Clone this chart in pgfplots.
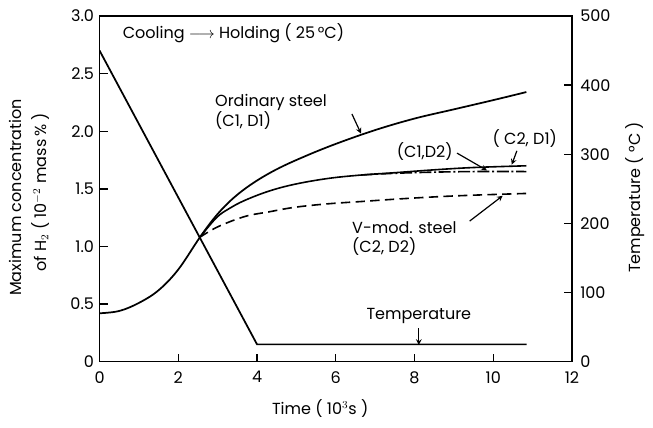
\documentclass[border=0pt]{standalone}
\usepackage{pgfplots}
\pgfplotsset{compat=1.18}
\usepackage{fontspec}
\setmainfont{Poppins}
\begin{document}
\fontsize{12pt}{14pt}\selectfont
\begin{tikzpicture}
\pgfplotsset{
  every axis/.append style={
    scale only axis, width=354pt, height=259pt,
    xmin=0, xmax=12,
    tick align=inside, major tick length=6pt,
    axis line style={line width=1pt},
    every tick/.style={black, line width=1pt},
    /pgf/number format/assume math mode=true,
    tick label style={font=\fontsize{12pt}{14pt}\selectfont},
  }
}
\begin{axis}[
  ymin=0, ymax=3,
  xtick={0,2,4,6,8,10,12},
  ytick={0,0.5,1,1.5,2,2.5,3},
  yticklabels={0,0.5,1.0,1.5,2.0,2.5,3.0},
  xtick pos=bottom, ytick pos=left,
  xticklabel style={yshift=-3pt},
  clip=false,
]
% Ordinary steel (C1,D1), including common rising part
\addplot[black, line width=1.3pt, smooth, tension=0.6] coordinates {
 (0,0.42) (0.5,0.44) (1.0,0.51) (1.5,0.62) (2.0,0.80) (2.55,1.08) (2.97,1.27)
 (3.4,1.42) (3.9,1.55) (4.5,1.67) (5.2,1.78) (6.0,1.89) (7,2.01) (8,2.11) (9,2.19)
 (10,2.27) (10.84,2.34)};
% (C2,D1)
\addplot[black, line width=1.2pt, smooth, tension=0.6] coordinates {
 (2.55,1.08) (2.97,1.25) (3.3,1.33) (3.69,1.40) (4.3,1.48) (4.96,1.54) (5.8,1.59)
 (6.65,1.62) (7.5,1.64) (8.5,1.665) (9.5,1.685) (10.84,1.70)};
% (C1,D2)
\addplot[black, line width=1.2pt, smooth, dash pattern=on 9pt off 2pt on 1.5pt off 2pt] coordinates {
 (6.65,1.62) (7.5,1.635) (8.5,1.645) (9.5,1.65) (10.84,1.65)};
% V-mod steel (C2,D2)
\addplot[black, line width=1.2pt, smooth, tension=0.6, dash pattern=on 7pt off 4pt] coordinates {
 (2.55,1.08) (3.0,1.17) (3.69,1.26) (4.3,1.30) (4.96,1.34) (5.8,1.37) (6.65,1.39)
 (7.5,1.41) (8.5,1.43) (9.5,1.445) (10.84,1.46)};

\node[anchor=west] at (axis cs:0.45,2.85) {Cooling \ensuremath{\longrightarrow} Holding ( 25\,°C)};
\node[anchor=west, align=left, inner sep=0pt] at (axis cs:2.93,2.17) {Ordinary steel\\(C1, D1)};
\draw[-stealth, line width=0.9pt] (axis cs:6.41,2.15) -- (axis cs:6.64,1.98);
\node[inner sep=0pt] at (axis cs:8.26,1.82) {(C1,D2)};
\draw[-stealth, line width=0.9pt] (axis cs:9.08,1.81) -- (axis cs:9.84,1.66);
\node[inner sep=0pt] at (axis cs:10.8,1.94) {( C2, D1)};
\draw[-stealth, line width=0.9pt] (axis cs:10.6,1.83) -- (axis cs:10.47,1.71);
\node[anchor=west, align=left, inner sep=0pt] at (axis cs:6.41,1.07) {V-mod. steel\\(C2, D2)};
\draw[-stealth, line width=0.9pt] (axis cs:9.4,1.22) -- (axis cs:10.24,1.44);
\node[inner sep=0pt] at (axis cs:8.11,0.40) {Temperature};
\draw[-stealth, line width=0.9pt] (axis cs:8.11,0.29) -- (axis cs:8.11,0.145);

\node[rotate=90] at (rel axis cs:-0.179,0.475) {Maximum concentration};
\node[rotate=90] at (rel axis cs:-0.126,0.49) {of H\ensuremath{_2} ( 10\ensuremath{^{-2}} mass\,\% )};
\node at (rel axis cs:0.467,-0.136) {Time ( 10\ensuremath{^3}s )};
\node[rotate=90] at (rel axis cs:1.133,0.475) {Temperature ( °C )};
\end{axis}
\begin{axis}[
  ymin=0, ymax=500,
  axis x line=none, axis y line*=right,
  ytick={0,100,200,300,400,500},
  ytick pos=right,
  yticklabel style={xshift=2pt},
]
\addplot[black, line width=1.3pt] coordinates {(0,450) (4,25) (10.85,25)};
\end{axis}
\path (current axis.south west) +(-74.6pt,-49.5pt) (current axis.north east) +(60.7pt,12pt);
\end{tikzpicture}
\end{document}
